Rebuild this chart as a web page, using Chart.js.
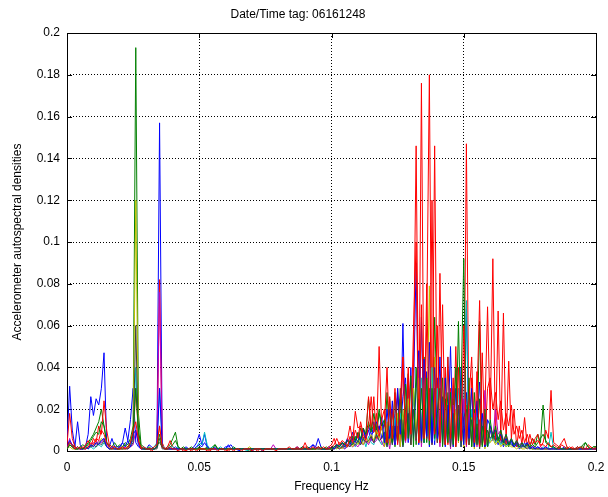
<!DOCTYPE html>
<html>
<head>
<meta charset="utf-8">
<title>Date/Time tag: 06161248</title>
<script src="https://cdn.jsdelivr.net/npm/chart.js@4/dist/chart.umd.min.js"></script>
<style>
  html, body { margin: 0; padding: 0; background: #fff; }
  canvas { display: block; }
</style>
</head>
<body>
<canvas id="spectra" width="608" height="497"></canvas>
<script>
// Frequency grid: 0 .. 0.2 Hz in 0.001 Hz bins (201 bins)
const freqStep = 0.001;
const binCount = 201;

const xTicks = [0, 0.05, 0.1, 0.15, 0.2];
const xTickLabels = ['0', '0.05', '0.1', '0.15', '0.2'];
const yTicks = [0, 0.02, 0.04, 0.06, 0.08, 0.1, 0.12, 0.14, 0.16, 0.18, 0.2];
const yTickLabels = ['0', '0.02', '0.04', '0.06', '0.08', '0.1', '0.12', '0.14', '0.16', '0.18', '0.2'];

// Autospectral densities, one array per accelerometer channel (bins 0..200)
const blue1 = [
  .004,.031,.010,.002,.014,.003,.001,.002,.008,.026,.017,.025,.022,.030,.047,.004,.002,.006,.002,.002,
  .002,.004,.011,.005,.015,.030,.004,.002,.001,.002,.001,.003,.002,.001,.002,.157,.003,.001,.002,.001,
  .001,.002,.001,.001,.001,.002,.001,.001,.002,.004,.008,.003,.008,.002,.001,.001,.002,.001,.001,.001,
  .002,.002,.003,.001,.001,0,.001,.001,.001,.001,0,.001,.001,.001,0,.001,.001,.001,.001,.001,
  .001,.001,.001,.001,.001,.001,.001,.002,.001,.002,.001,.001,.002,.003,.002,.006,.002,.001,.001,.002,
  .001,.002,.003,.002,.004,.003,.006,.004,.009,.005,.008,.004,.011,.006,.010,.005,.014,.008,.012,.006,
  .015,.003,.020,.004,.018,.026,.002,.061,.005,.033,.003,.028,.090,.003,.064,.004,.038,.002,.030,.003,
  .035,.004,.024,.002,.022,.003,.030,.005,.020,.002,.016,.068,.003,.018,.002,.014,.033,.004,.012,.002,
  .010,.005,.008,.003,.006,.002,.005,.003,.004,.002,.003,.001,.002,.004,.002,.001,.002,.001,.002,.001,
  .001,.002,.001,.001,.002,.001,.001,.001,.002,.001,.001,.001,.001,.002,.001,.001,.001,.001,.001,.001,
  .001
];
const green1 = [
  .002,.004,.003,.002,.001,.002,.003,.002,.004,.006,.008,.011,.014,.020,.012,.004,.003,.002,.004,.002,
  .003,.002,.004,.003,.006,.012,.193,.018,.003,.002,.001,.002,.001,.002,.003,.004,.002,.001,.002,.003,
  .006,.009,.002,.001,.002,.001,.001,.002,.001,.001,.002,.001,.001,.002,.001,.002,.003,.001,.001,.001,
  .001,.001,.001,.002,.001,.001,.001,.001,.001,0,.001,.001,.001,.001,.001,.001,.001,.001,.001,.001,
  .001,.001,.001,.001,.001,.001,.001,.001,.001,.002,.001,.002,.001,.001,.002,.001,.002,.001,.002,.001,
  .002,.001,.002,.003,.002,.004,.002,.005,.003,.007,.004,.011,.006,.008,.025,.010,.012,.008,.018,.012,
  .003,.028,.004,.020,.002,.016,.025,.003,.020,.037,.005,.030,.003,.028,.006,.045,.004,.030,.005,.064,
  .020,.004,.035,.003,.028,.005,.025,.002,.062,.004,.024,.003,.030,.002,.020,.004,.062,.003,.018,.002,
  .012,.006,.010,.004,.008,.003,.006,.002,.005,.003,.004,.002,.003,.002,.004,.002,.006,.003,.008,.004,
  .022,.004,.003,.002,.002,.001,.002,.001,.001,.002,.001,.001,.001,.002,.001,.003,.004,.002,.001,.002,
  .002
];
const red1 = [
  .003,.018,.006,.002,.001,.002,.001,.003,.005,.002,.006,.004,.012,.008,.024,.010,.003,.002,.002,.001,
  .002,.001,.002,.001,.003,.006,.030,.008,.002,.001,.001,.001,0,.001,.002,.082,.004,.001,.002,.005,
  .002,.001,.001,.001,0,.001,.001,0,.001,.001,.001,.001,.001,.001,0,.001,.001,.001,.001,.001,
  .001,0,.001,.001,.001,.001,.001,.001,.001,.001,.001,.001,0,.001,.001,.001,.001,.001,.001,.001,
  .001,.001,.001,.001,.001,.001,.001,.002,.001,.001,.004,.001,.001,.001,.001,.002,.001,.001,.001,.002,
  .003,.006,.002,.004,.003,.002,.005,.012,.005,.019,.011,.012,.005,.008,.026,.010,.026,.006,.050,.010,
  .012,.040,.003,.020,.005,.030,.004,.045,.006,.035,.003,.040,.146,.004,.176,.006,.060,.180,.005,.146,
  .004,.085,.006,.040,.003,.030,.005,.050,.004,.030,.006,.147,.003,.035,.005,.025,.072,.004,.020,.069,
  .015,.092,.004,.067,.005,.066,.003,.043,.006,.020,.002,.012,.003,.016,.002,.008,.003,.006,.008,.002,
  .004,.010,.006,.029,.004,.003,.002,.004,.006,.002,.001,.002,.001,.002,.001,.002,.001,.003,.002,.001,
  .002
];
const cyan1 = [
  .001,.003,.002,.001,.002,.001,.001,.002,.001,.002,.001,.002,.003,.002,.004,.002,.001,.001,.002,.001,
  .001,.002,.001,.002,.003,.005,.040,.006,.001,.002,.001,.001,.001,.002,.004,.030,.003,.001,.001,.002,
  .002,.001,.002,.001,.001,.001,.001,.001,.001,.002,.004,.003,.009,.003,.001,.002,.001,.001,.002,.001,
  .001,.001,.001,.001,.001,.001,.001,.001,0,.001,.001,.001,.001,.001,.001,.001,.001,.001,.001,.001,
  .001,.001,.001,.001,.001,.001,.001,.001,.001,.001,.001,.001,.001,.001,.001,.001,.001,.001,.001,.001,
  .001,.002,.001,.003,.002,.001,.003,.002,.004,.002,.005,.003,.006,.002,.007,.004,.003,.008,.005,.003,
  .006,.002,.012,.003,.016,.004,.018,.002,.010,.025,.003,.030,.006,.022,.035,.004,.028,.006,.040,.005,
  .030,.004,.025,.008,.045,.003,.022,.006,.030,.002,.020,.072,.004,.020,.003,.016,.002,.012,.006,.002,
  .005,.008,.004,.006,.003,.005,.002,.004,.003,.002,.003,.002,.002,.003,.002,.002,.001,.002,.001,.001,
  .002,.001,.001,.009,.001,.001,.001,.001,.001,.001,.001,.001,.001,.001,.001,.001,.001,.001,.001,.001,
  .001
];
const magenta1 = [
  .001,.006,.002,.001,.001,.001,.001,.001,.002,.003,.004,.003,.005,.004,.006,.003,.001,.001,.001,.001,
  .001,.001,.002,.001,.002,.003,.010,.004,.001,.001,.001,.001,.001,.001,.002,.076,.002,.001,.001,.001,
  .001,.001,.001,.001,.001,.001,.001,.001,.001,.001,.001,.001,.001,.001,.001,.001,.001,.001,.001,.001,
  .001,.001,.001,.001,.001,.001,.001,.001,.001,.001,.001,.001,.001,.001,.001,.001,.001,.001,.003,.001,
  .001,.001,.001,.001,.001,.001,.001,.001,.001,.001,.001,.001,.001,.001,.002,.001,.001,.001,.001,.001,
  .001,.001,.002,.001,.002,.001,.002,.003,.002,.003,.002,.004,.003,.005,.003,.006,.004,.005,.008,.004,
  .002,.008,.001,.010,.003,.012,.002,.015,.004,.018,.003,.020,.005,.025,.002,.022,.006,.028,.003,.016,
  .020,.002,.024,.004,.018,.001,.022,.003,.016,.005,.025,.002,.020,.004,.018,.002,.015,.003,.029,.002,
  .012,.006,.020,.008,.010,.005,.008,.004,.006,.003,.005,.003,.004,.002,.003,.002,.002,.002,.001,.002,
  .001,.001,.001,.001,.001,.001,.001,.001,.001,.001,.001,.001,.001,.001,.001,.001,.001,.001,.001,.001,
  .001
];
const yellow1 = [
  .001,.002,.001,.001,.001,.002,.001,.002,.001,.003,.002,.004,.003,.006,.005,.002,.001,.001,.001,.001,
  .001,.001,.001,.002,.003,.006,.120,.008,.001,.001,.001,.001,.001,.001,.002,.012,.002,.001,.001,.001,
  .001,.001,.001,.001,.001,.001,.001,.001,.001,.001,.001,.001,.001,.001,.001,.001,.001,.001,.001,.001,
  .001,.001,.001,.001,.001,.001,.001,.001,.001,.002,.001,.001,.001,.001,.001,.001,.001,.001,.001,.001,
  .001,.001,.001,.001,.001,.001,.001,.001,.001,.001,.001,.001,.001,.001,.001,.001,.001,.001,.001,.001,
  .001,.002,.001,.002,.001,.003,.002,.004,.002,.005,.003,.006,.003,.007,.004,.008,.005,.010,.006,.012,
  .002,.014,.003,.012,.004,.018,.002,.020,.005,.025,.003,.030,.006,.035,.004,.040,.008,.079,.006,.045,
  .005,.035,.003,.028,.006,.024,.002,.020,.004,.018,.002,.022,.003,.016,.001,.012,.002,.010,.001,.008,
  .004,.006,.003,.005,.002,.004,.002,.003,.002,.002,.001,.002,.001,.001,.002,.001,.001,.001,.001,.001,
  .001,.001,.001,.001,.001,.001,.001,.001,.001,.001,.001,.001,.001,.001,.001,.001,.001,.001,.001,.001,
  .001
];
const black1 = [
  .001,.003,.002,.001,.001,.001,.001,.001,.002,.002,.003,.002,.004,.003,.005,.002,.001,.001,.001,.001,
  .001,.001,.001,.001,.002,.004,.060,.005,.001,.001,.001,.001,.001,.001,.001,.006,.001,.001,.001,.001,
  .001,.001,.001,.001,.001,.001,.001,.001,.001,.001,.001,.001,.001,.001,.001,.001,.001,.001,.001,.001,
  .001,.001,.001,.001,.001,.001,.001,.001,.001,.001,.001,.001,.001,.001,.001,.001,.001,.001,.001,.001,
  .001,.001,.001,.001,.001,.001,.001,.001,.001,.001,.001,.001,.001,.001,.001,.001,.001,.001,.001,.001,
  .001,.001,.002,.001,.002,.002,.003,.002,.004,.003,.005,.003,.006,.004,.005,.007,.004,.008,.005,.006,
  .009,.002,.010,.003,.012,.004,.015,.002,.013,.018,.003,.020,.005,.025,.004,.022,.006,.028,.003,.030,
  .004,.014,.026,.003,.020,.002,.018,.005,.022,.002,.016,.020,.003,.015,.002,.013,.001,.012,.002,.010,
  .006,.008,.005,.006,.004,.005,.003,.004,.003,.002,.003,.002,.002,.002,.001,.002,.001,.001,.001,.001,
  .001,.001,.001,.001,.001,.001,.001,.001,.001,.001,.001,.001,.001,.001,.001,.001,.001,.001,.001,.001,
  .001
];
const blue2 = [
  .002,.005,.003,.001,.002,.001,.001,.002,.001,.003,.002,.004,.003,.005,.006,.002,.001,.002,.001,.001,
  .002,.004,.002,.005,.002,.008,.010,.003,.001,.001,.001,.001,.001,.001,.002,.030,.002,.001,.001,.001,
  .001,.001,.001,.001,.001,.001,.001,.001,.001,.002,.003,.002,.004,.002,.001,.001,.001,.001,.001,.001,
  .001,.003,.001,.001,.001,.001,.001,.001,.001,.001,.001,.001,.001,.001,.001,.001,.001,.001,.001,.001,
  .001,.001,.001,.001,.001,.001,.001,.001,.001,.001,.001,.001,.001,.003,.001,.002,.001,.001,.001,.001,
  .002,.001,.003,.002,.004,.002,.005,.003,.006,.004,.008,.005,.010,.006,.012,.008,.009,.014,.010,.016,
  .004,.020,.006,.024,.003,.030,.008,.026,.035,.004,.040,.006,.030,.048,.005,.044,.007,.052,.004,.040,
  .006,.045,.003,.035,.008,.050,.002,.030,.005,.040,.003,.028,.006,.030,.002,.024,.004,.018,.002,.015,
  .012,.008,.010,.006,.008,.004,.006,.003,.005,.002,.004,.002,.003,.002,.004,.001,.002,.001,.002,.001,
  .001,.002,.001,.001,.001,.001,.001,.001,.001,.001,.001,.001,.001,.001,.001,.001,.001,.001,.001,.001,
  .001
];
const green2 = [
  .001,.003,.002,.001,.001,.002,.001,.002,.003,.005,.007,.009,.008,.014,.012,.004,.002,.001,.002,.001,
  .001,.002,.003,.002,.004,.009,.030,.010,.002,.001,.001,.001,.001,.001,.002,.008,.002,.001,.001,.002,
  .003,.005,.002,.001,.001,.001,.001,.001,.001,.001,.001,.001,.001,.001,.001,.001,.003,.001,.001,.001,
  .001,.001,.001,.001,.001,.001,.001,.001,.001,.001,.001,.001,.001,.001,.001,.001,.001,.001,.001,.001,
  .001,.001,.001,.001,.001,.001,.001,.001,.001,.001,.001,.001,.001,.001,.001,.002,.001,.001,.001,.001,
  .001,.002,.003,.002,.004,.003,.005,.004,.007,.005,.009,.006,.011,.008,.014,.009,.018,.010,.020,.012,
  .015,.003,.025,.004,.028,.005,.030,.003,.032,.006,.036,.002,.040,.005,.030,.004,.035,.003,.030,.006,
  .018,.030,.002,.025,.004,.028,.003,.040,.005,.030,.092,.004,.035,.002,.028,.003,.025,.002,.020,.002,
  .015,.006,.012,.005,.010,.004,.008,.003,.006,.003,.005,.002,.004,.002,.003,.002,.003,.002,.004,.006,
  .008,.005,.003,.002,.002,.001,.002,.001,.001,.001,.001,.001,.001,.001,.002,.001,.004,.002,.001,.002,
  .002
];
const red2 = [
  .002,.004,.003,.001,.002,.001,.002,.001,.002,.004,.003,.006,.005,.010,.008,.004,.002,.001,.002,.001,
  .001,.002,.001,.002,.004,.010,.014,.005,.001,.002,.001,.001,.001,.002,.003,.012,.002,.001,.001,.002,
  .001,.001,0,.001,.001,0,.001,.001,.001,0,.001,.001,.001,0,.001,.001,.001,0,.001,.001,
  0,.001,.001,0,.001,.001,0,.001,.001,.001,0,.001,.001,.001,0,.001,.001,.001,.001,0,
  .001,.001,.001,.001,.002,.001,.001,.001,.001,.001,.002,.001,.001,.002,.001,.002,.001,.002,.001,.001,
  .002,.003,.006,.003,.005,.004,.002,.007,.004,.010,.006,.014,.008,.005,.012,.026,.009,.018,.007,.015,
  .020,.004,.026,.006,.030,.003,.024,.045,.005,.040,.008,.058,.100,.004,.070,.006,.080,.005,.120,.008,
  .060,.004,.070,.003,.045,.006,.035,.002,.040,.005,.060,.003,.025,.045,.004,.038,.002,.047,.003,.030,
  .035,.020,.028,.015,.024,.010,.018,.012,.022,.008,.012,.006,.010,.004,.008,.003,.006,.004,.005,.003,
  .003,.002,.004,.002,.003,.002,.001,.003,.002,.001,.002,.001,.001,.001,.002,.001,.001,.001,.002,.001,
  .001
];

// Channels in plotting order (later channels are drawn over earlier ones)
const channels = [
  { label: 'Ch 1',  color: '#0000ff', values: blue1 },
  { label: 'Ch 2',  color: '#008000', values: green1 },
  { label: 'Ch 3',  color: '#ff0000', values: red1 },
  { label: 'Ch 4',  color: '#00bfbf', values: cyan1 },
  { label: 'Ch 5',  color: '#bf00bf', values: magenta1 },
  { label: 'Ch 6',  color: '#bfbf00', values: yellow1 },
  { label: 'Ch 7',  color: '#404040', values: black1 },
  { label: 'Ch 8',  color: '#0000ff', values: blue2 },
  { label: 'Ch 9',  color: '#008000', values: green2 },
  { label: 'Ch 10', color: '#ff0000', values: red2 }
];

const freqs = Array.from({ length: binCount }, (_, i) => +(i * freqStep).toFixed(3));

const fontFamily = '"Liberation Sans", Arial, Helvetica, sans-serif';

// Box around the axes plus short inward tick marks on all four sides
const axesBox = {
  id: 'axesBox',
  beforeDatasetsDraw(chart) {
    const { ctx, chartArea: a, scales: { x, y } } = chart;
    const tick = 5;
    ctx.save();
    ctx.strokeStyle = '#000';
    ctx.lineWidth = 1;
    ctx.beginPath();
    x.ticks.forEach(t => {
      const px = Math.round(x.getPixelForValue(t.value)) + 0.5;
      ctx.moveTo(px, a.bottom); ctx.lineTo(px, a.bottom - tick);
      ctx.moveTo(px, a.top); ctx.lineTo(px, a.top + tick);
    });
    y.ticks.forEach(t => {
      const py = Math.round(y.getPixelForValue(t.value)) + 0.5;
      ctx.moveTo(a.left, py); ctx.lineTo(a.left + tick, py);
      ctx.moveTo(a.right, py); ctx.lineTo(a.right - tick, py);
    });
    ctx.stroke();
    ctx.strokeRect(Math.round(a.left) + 0.5, Math.round(a.top) + 0.5,
                   Math.round(a.right - a.left), Math.round(a.bottom - a.top));
    ctx.restore();
  }
};

new Chart(document.getElementById('spectra'), {
  type: 'line',
  data: {
    datasets: channels.map((ch, k) => ({
      label: ch.label,
      data: ch.values.map((v, i) => ({ x: freqs[i], y: v })),
      borderColor: ch.color,
      backgroundColor: ch.color,
      borderWidth: 1,
      pointRadius: 0,
      tension: 0,
      fill: false,
      order: channels.length - k
    }))
  },
  options: {
    responsive: false,
    animation: false,
    devicePixelRatio: 1,
    layout: { padding: { left: 0, right: 12, top: 0, bottom: 0 } },
    plugins: {
      legend: { display: false },
      tooltip: { enabled: false },
      title: {
        display: true,
        text: 'Date/Time tag: 06161248',
        color: '#000',
        font: { family: fontFamily, size: 12, weight: 'normal' },
        padding: { top: 7.6, bottom: 11 }
      }
    },
    scales: {
      x: {
        type: 'linear',
        min: 0,
        max: 0.2,
        afterFit(scale) {
          scale.height = 46;
          scale.paddingLeft = 0;
          scale.paddingRight = 0;
        },
        afterBuildTicks(scale) { scale.ticks = xTicks.map(v => ({ value: v })); },
        ticks: {
          color: '#000',
          padding: 9,
          maxRotation: 0,
          font: { family: fontFamily, size: 12 },
          callback: (v, i) => xTickLabels[i]
        },
        grid: { color: '#000', lineWidth: 1, drawTicks: false },
        border: { display: false, dash: [1, 2] },
        title: {
          display: true,
          text: 'Frequency Hz',
          color: '#000',
          font: { family: fontFamily, size: 12 },
          padding: { top: 0, bottom: 3 }
        }
      },
      y: {
        type: 'linear',
        min: 0,
        max: 0.2,
        afterFit(scale) { scale.width = 67; },
        afterBuildTicks(scale) { scale.ticks = yTicks.map(v => ({ value: v })); },
        ticks: {
          color: '#000',
          padding: 7,
          font: { family: fontFamily, size: 12 },
          callback: (v, i) => yTickLabels[i]
        },
        grid: { color: '#000', lineWidth: 1, drawTicks: false },
        border: { display: false, dash: [1, 2] },
        title: {
          display: true,
          text: 'Accelerometer autospectral densities',
          color: '#000',
          font: { family: fontFamily, size: 12 },
          padding: { top: 10, bottom: 0 }
        }
      }
    }
  },
  plugins: [axesBox]
});
</script>
</body>
</html>
